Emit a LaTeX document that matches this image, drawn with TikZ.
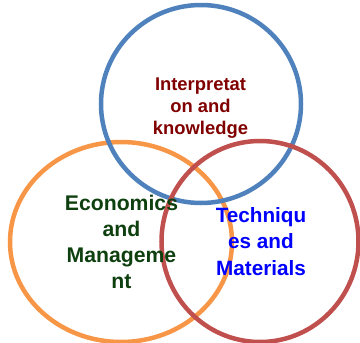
\documentclass[tikz,border=0pt]{standalone}
\usepackage{fontspec}
\setmainfont{Liberation Sans}
\usetikzlibrary{shapes.geometric}
\definecolor{cblue}{HTML}{4F81BD}
\definecolor{corange}{HTML}{F79646}
\definecolor{cred}{HTML}{C0504D}
\definecolor{tred}{HTML}{800000}
\definecolor{tgreen}{HTML}{0E3F0E}
\definecolor{tblue}{HTML}{0000FF}
\tikzset{
  ring/.style={ellipse, draw, line width=4.5pt, inner sep=0pt, fill=none},
  lbl/.style={align=center, inner sep=0pt, font=\bfseries}
}
\begin{document}
\begin{tikzpicture}[x=1pt,y=-1pt]
\useasboundingbox (0,0) rectangle (360,343);
\node[ring, draw=corange, minimum width=222pt, minimum height=200pt] (econ) at (121,242) {};
\node[ring, draw=cblue, minimum width=200pt, minimum height=198pt] (interp) at (201,104) {};
\node[ring, draw=cred, minimum width=197pt, minimum height=201pt] (tech) at (260,241.5) {};
\node[lbl, text=tred, font=\bfseries\fontsize{18.4}{22}\selectfont] (tinterp) at (200.5,108) {Interpretat\\on and\\knowledge};
\node[lbl, text=tgreen, font=\bfseries\fontsize{21.2}{26}\selectfont] (tecon) at (121.5,242) {Economics\\and\\Manageme\\nt};
\node[lbl, text=tblue, font=\bfseries\fontsize{20.7}{26.5}\selectfont] (ttech) at (261,241.5) {Techniqu\\es and\\Materials};
\end{tikzpicture}
\end{document}
